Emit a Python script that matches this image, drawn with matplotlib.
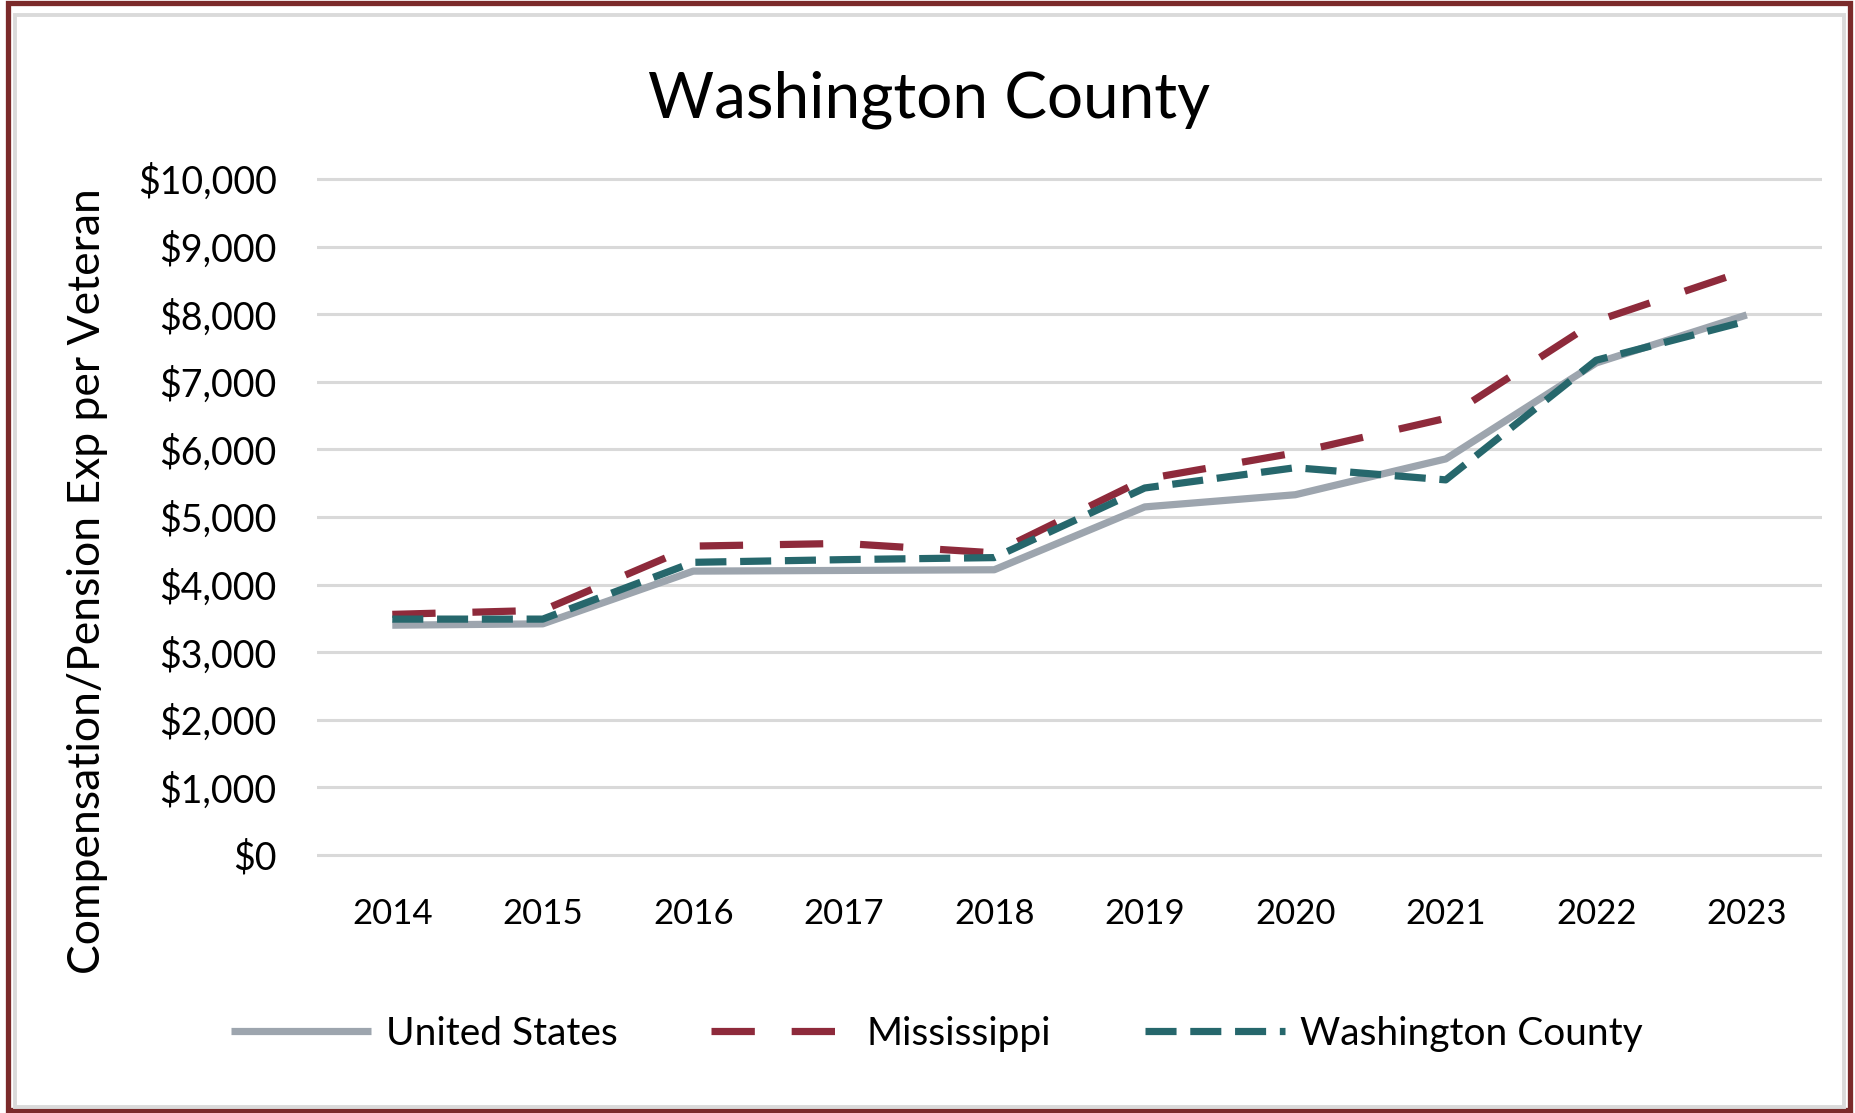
import matplotlib
matplotlib.use("Agg")
import matplotlib.pyplot as plt
from matplotlib.patches import Rectangle

years = ["2014", "2015", "2016", "2017", "2018", "2019", "2020", "2021", "2022", "2023"]
united_states = [3400, 3420, 4200, 4210, 4220, 5150, 5330, 5860, 7280, 7990]
mississippi = [3560, 3620, 4570, 4610, 4470, 5560, 5950, 6460, 7900, 8650]
washington_county = [3490, 3490, 4330, 4370, 4400, 5430, 5730, 5550, 7320, 7900]
yticks = list(range(0, 10001, 1000))
ytick_labels = ["${:,}".format(v) for v in yticks]

plt.rcParams['font.family'] = ['Lato', 'DejaVu Sans']

W, H = 1855, 1113
fig = plt.figure(figsize=(W / 100, H / 100), dpi=100)
fig.patch.set_facecolor("white")

# frame
fig.patches.append(Rectangle((7.5 / W, 3.5 / H), (1850 - 7.5) / W, (1110 - 3.5) / H,
                             transform=fig.transFigure, fill=False,
                             edgecolor="#7B2A2A", linewidth=3.8))
fig.patches.append(Rectangle((15 / W, 6.5 / H), (1843.5 - 15) / W, (1098 - 6.5) / H,
                             transform=fig.transFigure, fill=False,
                             edgecolor="#DADADA", linewidth=2.8))

ax = fig.add_axes([0.1709, 0.2227, 0.8113, 0.6255])
x = list(range(len(years)))
ax.plot(x, united_states, color="#9DA5AE", lw=5.2, solid_capstyle="butt", label="United States", zorder=3)
ax.plot(x, mississippi, color="#8E2A3B", lw=5.2, dashes=(6.0, 5.1), dash_capstyle="butt",
        label="Mississippi", zorder=4)
ax.plot(x, washington_county, color="#26676C", lw=5.2, dashes=(4.3, 1.9), dash_capstyle="butt",
        label="Washington County", zorder=5)

ax.set_xlim(-0.5, len(years) - 0.5)
ax.set_ylim(-150, 10150)
ax.set_yticks(yticks)
ax.set_yticklabels(ytick_labels)
ax.set_xticks(x)
ax.set_xticklabels(years)
for s in ax.spines.values():
    s.set_visible(False)
ax.grid(axis="y", color="#D9D9D9", lw=2.2, zorder=0)
ax.set_axisbelow(True)
ax.tick_params(axis="y", length=0, pad=29, labelsize=27)
ax.tick_params(axis="x", length=0, pad=24, labelsize=25)

fig.text(0.501, 0.894, "Washington County", ha="center", va="baseline", fontsize=46)
fig.text(0.047, 0.4775, "Compensation/Pension Exp per Veteran", rotation=90,
         ha="center", va="center", fontsize=32)

leg = ax.legend(loc="center", bbox_to_anchor=(0.505, 0.071), bbox_transform=fig.transFigure,
                ncol=3, frameon=False, fontsize=28, handlelength=3.6, handletextpad=0.4,
                columnspacing=2.4)

fig.savefig("out.png", dpi=100, facecolor="white")
